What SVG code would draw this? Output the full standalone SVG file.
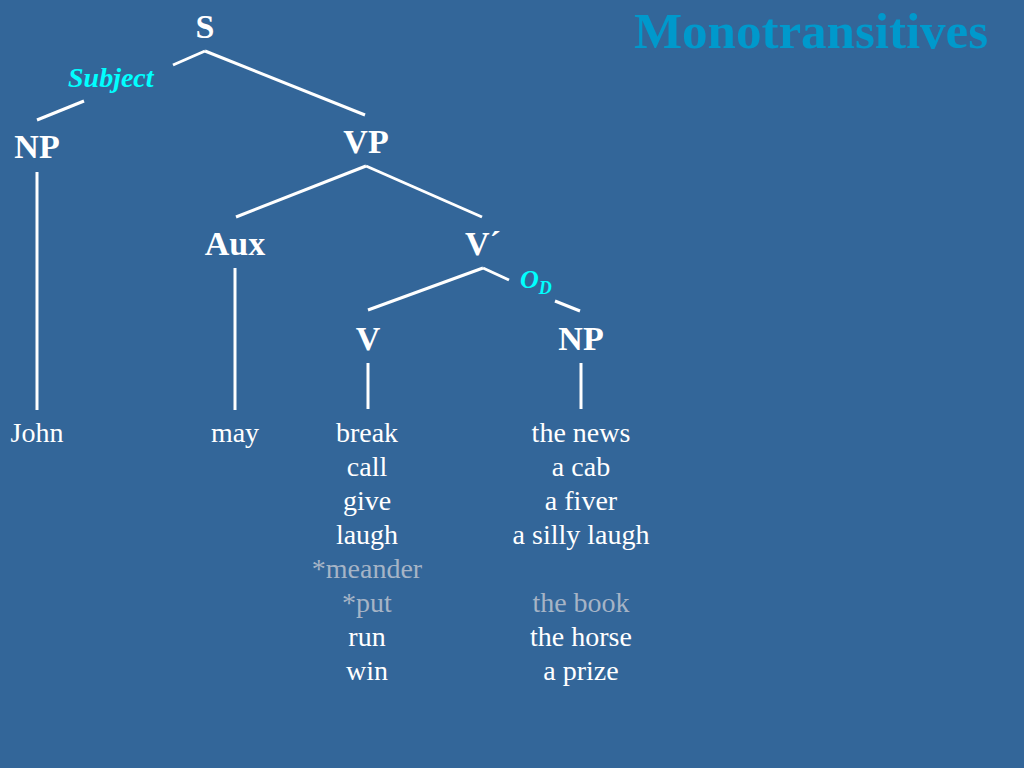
<svg xmlns="http://www.w3.org/2000/svg" width="1024" height="768" viewBox="0 0 1024 768">
<style>
.lbl{font-family:"Liberation Serif","Times New Roman",serif;font-weight:bold;font-size:34px;fill:#ffffff;text-anchor:middle}
.fn{font-family:"Liberation Serif","Times New Roman",serif;font-style:italic;font-weight:bold;fill:#00ffff}
.w{font-family:"Liberation Serif","Times New Roman",serif;font-size:28px;fill:#ffffff;text-anchor:middle}
.g{fill:#a6b4c6}
.ln{stroke:#ffffff;stroke-width:3;fill:none}
</style>
<rect width="1024" height="768" fill="#336699"/>
<text x="811" y="48" font-family="Liberation Serif,serif" font-weight="bold" font-size="51" fill="#0099cc" text-anchor="middle">Monotransitives</text>
<g id="connectors">
<line class="ln" x1="205" y1="51" x2="173" y2="65"/>
<line class="ln" x1="84" y1="101" x2="37" y2="120"/>
<line class="ln" x1="205" y1="51" x2="365" y2="115"/>
<line class="ln" x1="37" y1="172" x2="37" y2="410"/>
<line class="ln" x1="366" y1="166" x2="236" y2="217"/>
<line class="ln" x1="366" y1="166" x2="482" y2="217"/>
<line class="ln" x1="235" y1="268" x2="235" y2="410"/>
<line class="ln" x1="483" y1="268" x2="368" y2="310"/>
<line class="ln" x1="483" y1="268" x2="509" y2="280"/>
<line class="ln" x1="555" y1="301" x2="580" y2="311"/>
<line class="ln" x1="368" y1="363" x2="368" y2="409"/>
<line class="ln" x1="581" y1="363" x2="581" y2="409"/>
</g>
<g id="S"><text class="lbl" x="205" y="38">S</text></g>
<g id="subject-label"><text class="fn" x="68" y="87" font-size="28">Subject</text></g>
<g id="NP1"><text class="lbl" x="37" y="158">NP</text></g>
<g id="VP"><text class="lbl" x="366" y="153">VP</text></g>
<g id="Aux"><text class="lbl" x="235" y="255">Aux</text></g>
<g id="Vbar"><text class="lbl" x="483" y="255">V´</text></g>
<g id="od-label"><text class="fn" x="520" y="288" font-size="26">O<tspan font-size="18" dy="6">D</tspan></text></g>
<g id="V"><text class="lbl" x="368" y="350">V</text></g>
<g id="NP2"><text class="lbl" x="581" y="350">NP</text></g>
<g id="John"><text class="w" x="37" y="442">John</text></g>
<g id="may"><text class="w" x="235" y="442">may</text></g>
<g id="verbs">
<text class="w" x="367" y="442">break</text>
<text class="w" x="367" y="476">call</text>
<text class="w" x="367" y="510">give</text>
<text class="w" x="367" y="544">laugh</text>
<text class="w g" x="367" y="578">*meander</text>
<text class="w g" x="367" y="612">*put</text>
<text class="w" x="367" y="646">run</text>
<text class="w" x="367" y="680">win</text>
</g>
<g id="objects">
<text class="w" x="581" y="442">the news</text>
<text class="w" x="581" y="476">a cab</text>
<text class="w" x="581" y="510">a fiver</text>
<text class="w" x="581" y="544">a silly laugh</text>
<text class="w g" x="581" y="612">the book</text>
<text class="w" x="581" y="646">the horse</text>
<text class="w" x="581" y="680">a prize</text>
</g>
</svg>
